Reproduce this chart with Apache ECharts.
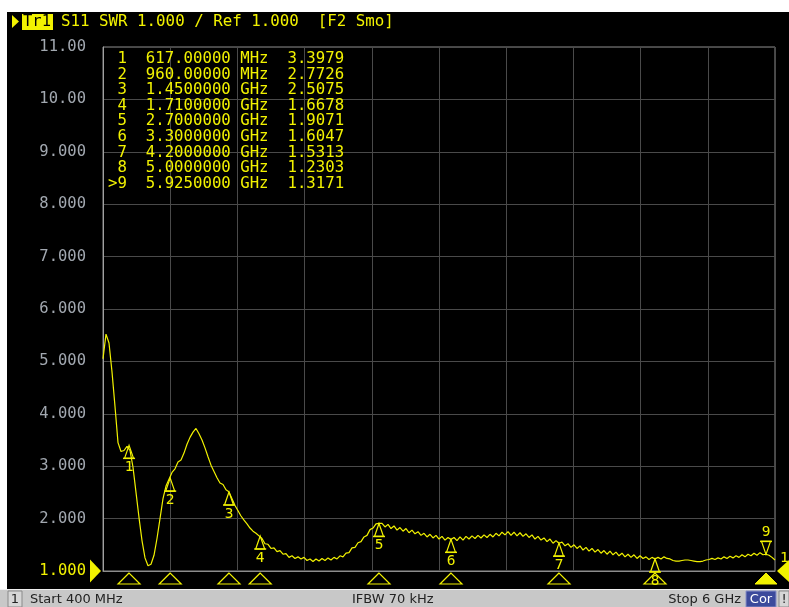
<!DOCTYPE html>
<html><head><meta charset="utf-8">
<script src="https://cdn.jsdelivr.net/npm/echarts@6/dist/echarts.min.js"></script>
<style>html,body{margin:0;padding:0;background:#fff}#c{width:789px;height:607px}</style>
</head><body><div id="c"></div>
<script>
// ---- sweep ----
const sweepStartMHz = 400;
const sweepStopMHz = 6000;
const sweepStepMHz = 25;
// SWR trace, one value per sweep point (400 MHz .. 6000 MHz, 25 MHz step)
const swr = [
  5.05, 5.52, 5.35, 4.80, 4.14, 3.45, 3.28, 3.30, 3.38, 3.30,
  2.98, 2.50, 2.02, 1.58, 1.25, 1.10, 1.13, 1.30, 1.62, 2.00,
  2.38, 2.62, 2.75, 2.88, 2.95, 3.08, 3.12, 3.25, 3.42, 3.55,
  3.65, 3.72, 3.62, 3.50, 3.35, 3.18, 3.02, 2.90, 2.78, 2.68,
  2.65, 2.55, 2.51, 2.38, 2.25, 2.15, 2.05, 1.97, 1.90, 1.82,
  1.76, 1.72, 1.67, 1.62, 1.52, 1.51, 1.43, 1.44, 1.37, 1.39,
  1.32, 1.33, 1.26, 1.29, 1.24, 1.27, 1.23, 1.26, 1.20, 1.23,
  1.18, 1.23, 1.19, 1.24, 1.20, 1.25, 1.21, 1.26, 1.23, 1.29,
  1.27, 1.34, 1.35, 1.44, 1.45, 1.54, 1.56, 1.65, 1.68, 1.79,
  1.82, 1.90, 1.91, 1.91, 1.84, 1.89, 1.81, 1.86, 1.78, 1.83,
  1.76, 1.81, 1.73, 1.78, 1.71, 1.75, 1.68, 1.72, 1.65, 1.70,
  1.63, 1.68, 1.61, 1.66, 1.59, 1.64, 1.60, 1.64, 1.58, 1.65,
  1.59, 1.66, 1.61, 1.67, 1.62, 1.68, 1.63, 1.69, 1.64, 1.70,
  1.65, 1.72, 1.67, 1.74, 1.69, 1.75, 1.68, 1.74, 1.67, 1.73,
  1.66, 1.71, 1.64, 1.69, 1.61, 1.66, 1.59, 1.63, 1.56, 1.61,
  1.53, 1.58, 1.53, 1.55, 1.48, 1.52, 1.45, 1.50, 1.43, 1.48,
  1.40, 1.45, 1.38, 1.43, 1.36, 1.41, 1.34, 1.39, 1.32, 1.38,
  1.31, 1.36, 1.29, 1.34, 1.27, 1.32, 1.26, 1.31, 1.24, 1.29,
  1.24, 1.27, 1.22, 1.26, 1.23, 1.26, 1.23, 1.27, 1.24, 1.23,
  1.20, 1.19, 1.19, 1.20, 1.21, 1.21, 1.20, 1.19, 1.18, 1.18,
  1.19, 1.21, 1.22, 1.24, 1.22, 1.25, 1.23, 1.27, 1.24, 1.28,
  1.25, 1.29, 1.26, 1.31, 1.27, 1.32, 1.29, 1.34, 1.30, 1.35,
  1.31, 1.32, 1.30, 1.26, 1.21
];
// ---- axis ----
const yMin = 1, yMax = 11, yStep = 1;
const yTickLabels = ['1.000','2.000','3.000','4.000','5.000','6.000','7.000','8.000','9.000','10.00','11.00'];
const xDivisions = 10;
// ---- markers ----
const markerIds = ['1','2','3','4','5','6','7','8','>9'];
const markerNums = ['1','2','3','4','5','6','7','8','9'];
const markerFreqMHz = [617, 960, 1450, 1710, 2700, 3300, 4200, 5000, 5925];
const markerSWR = [3.3979, 2.7726, 2.5075, 1.6678, 1.9071, 1.6047, 1.5313, 1.2303, 1.3171];
const activeMarker = 8;
// ---- texts ----
const headerTrace = 'Tr1';
const headerText = 'S11 SWR 1.000 / Ref 1.000  [F2 Smo]';
const statusChannel = '1';
const statusStart = 'Start 400 MHz';
const statusIfbw = 'IFBW 70 kHz';
const statusStop = 'Stop 6 GHz';
const statusCor = 'Cor';

const YEL = '#f2f200';
const MONO = '"DejaVu Sans Mono", monospace';
const FS = 15.5;
const SFONT = '13px "DejaVu Sans"';

const span = sweepStopMHz - sweepStartMHz;
const traceData = swr.map((v, i) => [i * sweepStepMHz, v]);

function fmtFreq(f) {
  return f < 1000 ? [f.toFixed(5), 'MHz'] : [(f / 1000).toFixed(7), 'GHz'];
}
function pad(s, n) { while (s.length < n) s = ' ' + s; return s; }
const tableRows = markerIds.map((id, i) => {
  const [fs, unit] = fmtFreq(markerFreqMHz[i]);
  return pad(id, 2) + '  ' + pad(fs, 9) + ' ' + unit + '  ' + markerSWR[i].toFixed(4);
});

const chart = echarts.init(document.getElementById('c'), null, {renderer: 'canvas'});

const graphics = [
  {type: 'rect', shape: {x: 7, y: 12, width: 782, height: 578}, style: {fill: '#000'}, z: -10, silent: true},
  {type: 'polygon', shape: {points: [[12, 15], [19, 21.5], [12, 28]]}, style: {fill: YEL}, silent: true},
  {type: 'rect', shape: {x: 22, y: 14, width: 31, height: 16}, style: {fill: YEL}, silent: true},
  {type: 'text', x: 23, y: 22, style: {text: headerTrace, fill: '#000', font: FS + 'px ' + MONO, verticalAlign: 'middle'}, silent: true},
  {type: 'text', x: 61, y: 22, style: {text: headerText, fill: YEL, font: '15.8px ' + MONO, verticalAlign: 'middle'}, silent: true},
  // status bar
  {type: 'rect', shape: {x: 0, y: 589, width: 789, height: 18}, style: {fill: '#c8c8c8'}, silent: true},
  {type: 'line', shape: {x1: 0, y1: 589.5, x2: 789, y2: 589.5}, style: {stroke: '#eeeeee', lineWidth: 1}, silent: true},
  {type: 'rect', shape: {x: 8, y: 591, width: 14, height: 16}, style: {fill: '#d6d6d6', stroke: '#8a8a8a', lineWidth: 1}, silent: true},
  {type: 'text', x: 15, y: 599.5, style: {text: statusChannel, fill: '#222', font: SFONT, align: 'center', verticalAlign: 'middle'}, silent: true},
  {type: 'text', x: 30, y: 599.5, style: {text: statusStart, fill: '#222', font: SFONT, verticalAlign: 'middle'}, silent: true},
  {type: 'text', x: 352, y: 599.5, style: {text: statusIfbw, fill: '#222', font: SFONT, verticalAlign: 'middle'}, silent: true},
  {type: 'text', x: 741, y: 599.5, style: {text: statusStop, fill: '#222', font: SFONT, align: 'right', verticalAlign: 'middle'}, silent: true},
  {type: 'rect', shape: {x: 746, y: 591, width: 30, height: 16}, style: {fill: '#3c4a9c', stroke: '#8890c8', lineWidth: 1}, silent: true},
  {type: 'text', x: 761, y: 599.5, style: {text: statusCor, fill: '#fff', font: SFONT, align: 'center', verticalAlign: 'middle'}, silent: true},
  {type: 'rect', shape: {x: 779, y: 591, width: 10, height: 16}, style: {fill: '#d6d6d6', stroke: '#8a8a8a', lineWidth: 1}, silent: true},
  {type: 'text', x: 784, y: 599.5, style: {text: '!', fill: '#222', font: SFONT, align: 'center', verticalAlign: 'middle'}, silent: true}
];
tableRows.forEach((row, i) => {
  graphics.push({type: 'text', x: 108, y: 59 + i * 15.6, z: 20,
    style: {text: row, fill: YEL, font: '15.7px ' + MONO, verticalAlign: 'middle'}, silent: true});
});

const option = {
  backgroundColor: '#fff',
  animation: false,
  grid: {left: 103, right: 14, top: 47, bottom: 36, show: true, backgroundColor: '#000', borderColor: '#8c8c8c', borderWidth: 1},
  xAxis: {
    type: 'value', min: 0, max: span, interval: span / xDivisions,
    axisLine: {show: true, lineStyle: {color: '#8c8c8c'}},
    axisTick: {show: false}, axisLabel: {show: false},
    splitLine: {show: true, lineStyle: {color: '#4a4a4a', width: 1}}
  },
  yAxis: {
    type: 'value', min: yMin, max: yMax, interval: yStep,
    axisLine: {show: true, lineStyle: {color: '#a0a0a0'}},
    axisTick: {show: false},
    axisLabel: {
      margin: 17, fontFamily: MONO, fontSize: FS,
      formatter: (v) => yTickLabels[Math.round((v - yMin) / yStep)],
      color: (v) => (Math.abs(v - yMin) < 1e-9 ? YEL : '#a2a8b0')
    },
    splitLine: {show: true, lineStyle: {color: '#4a4a4a', width: 1}}
  },
  graphic: graphics,
  series: [
    {
      type: 'line', data: traceData, showSymbol: false, symbol: 'none',
      lineStyle: {color: YEL, width: 1.2}, z: 4, silent: true
    },
    {
      type: 'custom', coordinateSystem: 'cartesian2d', clip: false, silent: true, z: 6,
      data: markerFreqMHz.map((f, i) => [f - sweepStartMHz, markerSWR[i], i]),
      renderItem(params, api) {
        const i = api.value(2);
        const p = api.coord([api.value(0), api.value(1)]);
        const base = api.coord([api.value(0), yMin]);
        const up = i !== activeMarker;
        const s = up ? 1 : -1;
        const h = 13, w = 4.5;
        const children = [
          {type: 'polygon', shape: {points: [[p[0], p[1]], [p[0] - w, p[1] + s * h], [p[0] + w, p[1] + s * h]]},
            style: {fill: 'none', stroke: YEL, lineWidth: 1.2}},
          {type: 'line', shape: {x1: p[0] - 6, y1: p[1] + s * h, x2: p[0] + 6, y2: p[1] + s * h},
            style: {stroke: YEL, lineWidth: 1.5}},
          {type: 'text', x: p[0], y: p[1] + s * (h + 9),
            style: {text: markerNums[i], fill: YEL, font: '14.5px ' + MONO, align: 'center', verticalAlign: 'middle'}},
          {type: 'polygon', shape: {points: [[base[0], base[1] + 2], [base[0] - 11, base[1] + 13], [base[0] + 11, base[1] + 13]]},
            style: i === activeMarker ? {fill: YEL, stroke: YEL, lineWidth: 1} : {fill: 'none', stroke: YEL, lineWidth: 1.2}}
        ];
        return {type: 'group', children};
      }
    }
  ]
};
chart.setOption(option);

// reference level markers on both sides, placed through the axis scale
const refLeft = chart.convertToPixel({gridIndex: 0}, [0, yMin]);
const refRight = chart.convertToPixel({gridIndex: 0}, [span, yMin]);
chart.setOption({graphic: graphics.concat([
  {type: 'polygon', shape: {points: [[refLeft[0] - 2, refLeft[1]], [refLeft[0] - 13, refLeft[1] - 11.5], [refLeft[0] - 13, refLeft[1] + 11.5]]}, style: {fill: YEL}, silent: true, z: 20},
  {type: 'polygon', shape: {points: [[refRight[0] + 2, refRight[1]], [refRight[0] + 14, refRight[1] - 11], [refRight[0] + 14, refRight[1] + 11]]}, style: {fill: YEL}, silent: true, z: 20},
  {type: 'text', x: refRight[0] + 5, y: refRight[1] - 13, style: {text: '1', fill: YEL, font: '14.5px ' + MONO, verticalAlign: 'middle'}, silent: true, z: 20}
])});
</script>
</body></html>
